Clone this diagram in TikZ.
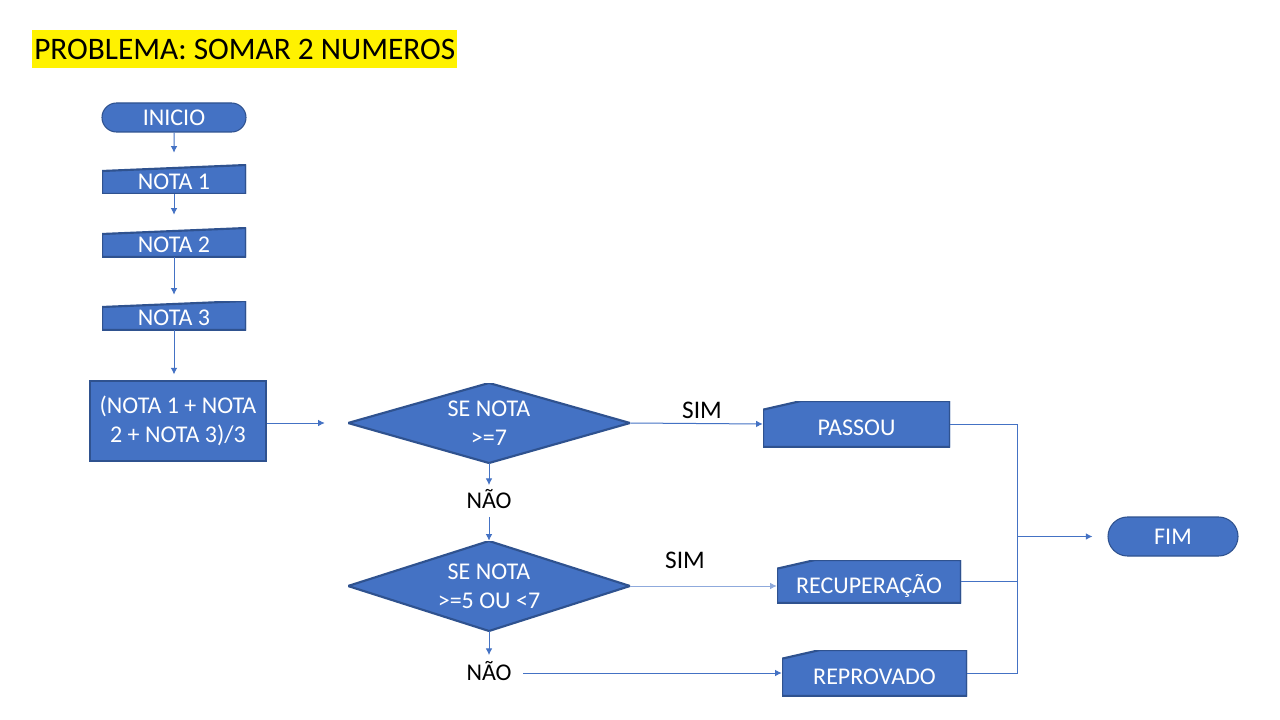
\documentclass[tikz,border=0pt]{standalone}
\usepackage{fontspec}
\setmainfont{Carlito}
\usetikzlibrary{shapes.misc,arrows.meta}
\definecolor{boxblue}{HTML}{4472C4}
\definecolor{edgeblue}{HTML}{2F528F}
\definecolor{paleblue}{HTML}{8FAADC}

\begin{document}
\begin{tikzpicture}[x=0.75pt,y=-0.75pt]
	\tikzstyle{txt} = [font=\fontsize{18}{21.5}\selectfont];
	\tikzstyle{term} = [rounded rectangle, draw=edgeblue, thick, fill=boxblue, text=white, txt, inner sep=0pt];
	\tikzstyle{proc} = [rectangle, draw=edgeblue, thick, fill=boxblue, text=white, txt, align=center, inner sep=0pt];
	\tikzstyle{manual} = [rectangle, text=white, txt, inner sep=0pt, text height=15pt, text depth=0pt, minimum width=108pt, minimum height=21.75pt,
		path picture={\filldraw[draw=edgeblue, fill=boxblue, line width=1.6pt] (path picture bounding box.south west) -- (path picture bounding box.south east) -- (path picture bounding box.north east) -- ([yshift=-4.5pt]path picture bounding box.north west) -- cycle;}];
	\tikzstyle{card} = [rectangle, text=white, txt, inner sep=0pt, text height=17.5pt, text depth=0pt,
		path picture={\filldraw[draw=edgeblue, fill=boxblue, line width=1.6pt] (path picture bounding box.south west) -- (path picture bounding box.south east) -- (path picture bounding box.north east) -- ([xshift=28.5pt]path picture bounding box.north west) -- ([yshift=-6.5pt]path picture bounding box.north west) -- cycle;}];
	\tikzstyle{decide} = [rectangle, text=white, txt, align=center, inner sep=0pt, minimum width=211.5pt,
		path picture={\filldraw[draw=edgeblue, fill=boxblue, line width=1.6pt] (path picture bounding box.west) -- (path picture bounding box.north) -- (path picture bounding box.east) -- (path picture bounding box.south) -- cycle;}];
	\tikzstyle{lbl} = [txt, text height=11pt, text depth=0pt, inner sep=1pt];
	\tikzstyle{simlbl} = [font=\fontsize{19}{22}\selectfont, inner sep=0pt];
	\tikzstyle{conn} = [draw=boxblue, line width=0.75pt, -{Latex[length=5pt,width=5pt]}];
	\tikzstyle{wire} = [draw=boxblue, line width=0.75pt];

	\fill[white] (0,0) rectangle (1280,720);
	\useasboundingbox (0,0) rectangle (1280,720);

	\node [fill=yellow, anchor=west, inner xsep=1.5pt, inner ysep=0pt, minimum height=28.5pt, font=\fontsize{23.5}{28}\selectfont] (titulo) at (32,49) {PROBLEMA: SOMAR 2 NUMEROS};

	\node [term, minimum width=108pt, minimum height=21.75pt] (inicio) at (174,117.5) {INICIO};
	\node [manual] (nota1) at (174,179.5) {NOTA 1};
	\node [manual] (nota2) at (174,242.5) {NOTA 2};
	\node [manual] (nota3) at (174,315.5) {NOTA 3};
	\node [proc, minimum width=132pt, minimum height=60pt] (media) at (178,421) {(NOTA 1 + NOTA\\2 + NOTA 3)/3};
	\node [decide, minimum height=60pt] (se7) at (489,423) {SE NOTA\\>=7};
	\node [lbl] (nao1) at (489,501) {NÃO};
	\node [decide, minimum height=67.5pt] (se5) at (489,586) {SE NOTA\\>=5 OU <7};
	\node [lbl] (nao2) at (489,673) {NÃO};
	\node [card, minimum width=140.25pt, minimum height=34.5pt] (passou) at (856.5,424) {PASSOU};
	\node [card, minimum width=138pt, minimum height=32.25pt] (recup) at (869,581.5) {RECUPERAÇÃO};
	\node [card, minimum width=138.75pt, minimum height=34.5pt] (reprov) at (874.5,673) {REPROVADO};
	\node [term, minimum width=97.5pt, minimum height=29.25pt] (fim) at (1173,536.5) {FIM};
	\node [simlbl] (sim1) at (702,410) {SIM};
	\node [simlbl] (sim2) at (685,560) {SIM};

	\draw [conn, shorten >=9pt] (inicio) -- (nota1);
	\draw [conn, shorten >=9.75pt] (nota1) -- (nota2);
	\draw [conn, shorten >=4.5pt] (nota2) -- (nota3);
	\draw [conn, shorten >=4.5pt] (nota3.south) -- (nota3.south |- media.north);
	\draw [conn, shorten >=17.25pt] (se7.west -| media.east) -- (se7.west);
	\draw [conn] (se7.east) -- (passou.west);
	\draw [conn, shorten >=5.25pt] (se7.south) -- (nao1.north);
	\draw [conn, shorten <=5.25pt] (nao1.south) -- (se5.north);
	\draw [conn, shorten >=6.75pt] (se5.south) -- (nao2.north);
	\draw [conn, draw=paleblue] (se5.east) -- (se5.east -| recup.west);
	\draw [conn, shorten <=7.5pt] (nao2.east) -- (nao2.east -| reprov.west);

	% juncao antes do FIM
	\coordinate (jtop) at (1017,424);
	\coordinate (jbot) at (1017,673);
	\coordinate (jmid) at (fim.west -| jtop);
	\draw [wire] (passou.east) -- (jtop) -- (jbot) -- (reprov.east);
	\draw [wire] (recup.east) -- (recup.east -| jtop);
	\draw [conn, shorten >=11.25pt] (jmid) -- (fim.west);

\end{tikzpicture}
\end{document}
